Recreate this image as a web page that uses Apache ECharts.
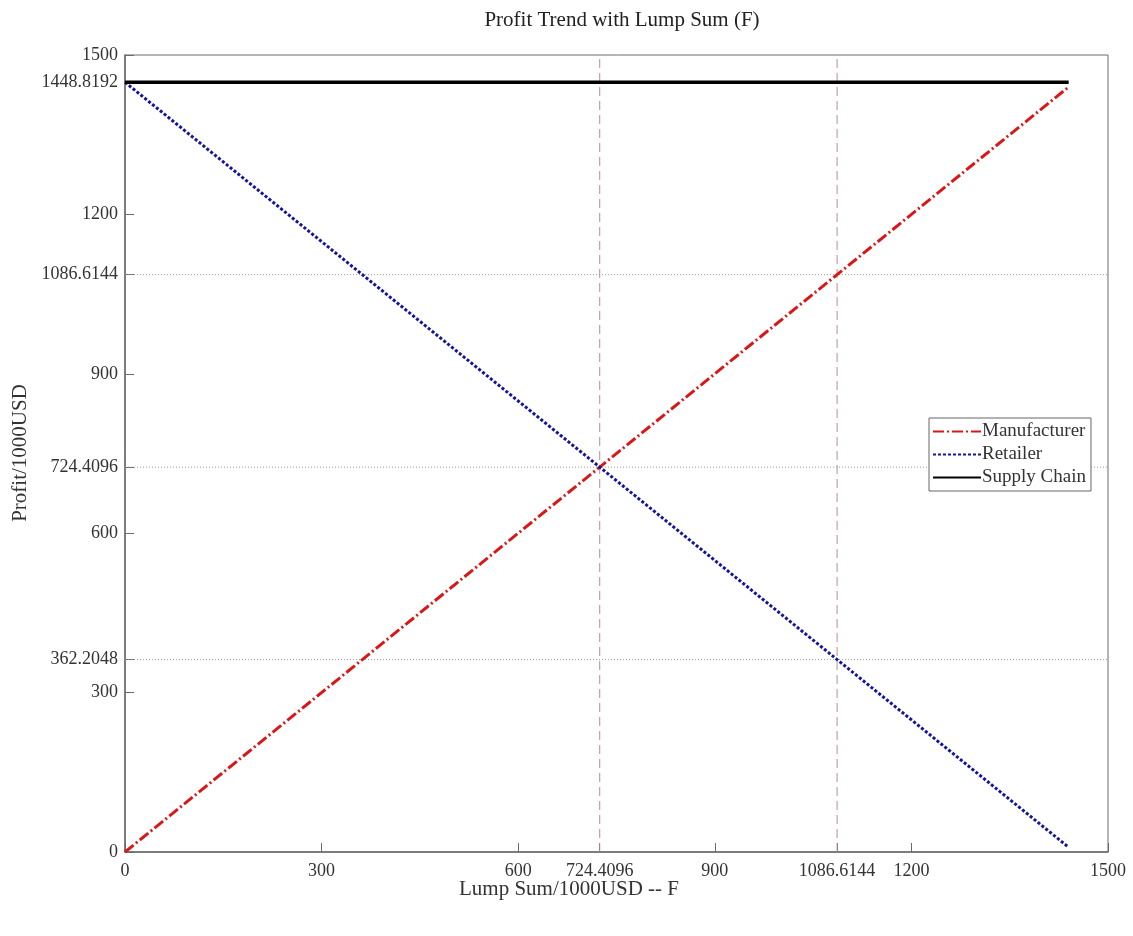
<!DOCTYPE html>
<html>
<head>
<meta charset="utf-8">
<script src="https://cdn.jsdelivr.net/npm/echarts@6/dist/echarts.min.js"></script>
<style>
  html, body { margin: 0; padding: 0; background: #fff; }
  #chart { width: 1133px; height: 936px; }
</style>
</head>
<body>
<div id="chart"></div>
<script>
// Lump sum F (x) and resulting profits, in 1000 USD
const lumpSum      = [0, 724.4096, 1086.6144, 1440];
const manufacturer = [0, 724.4096, 1086.6144, 1440];
const retailer     = [1448.8192, 724.4096, 362.2048, 8.8192];
const supplyChain  = [1448.8192, 1448.8192, 1448.8192, 1448.8192];

// Tick labels on each axis
const xTicks = [0, 300, 600, 724.4096, 900, 1086.6144, 1200, 1500];
const yTicks = [0, 300, 362.2048, 600, 724.4096, 900, 1086.6144, 1200, 1448.8192, 1500];

// Reference lines
const vRefX = [724.4096, 1086.6144];
const hRefY = [362.2048, 724.4096, 1086.6144];

const FONT = '"Liberation Serif", "Times New Roman", serif';
const TXT = '#333';
const AX = '#6a6a6a';

const pairs = (xs, ys) => xs.map((x, i) => [x, ys[i]]);

const series = [];

vRefX.forEach(x => series.push({
  type: 'line', silent: true, symbol: 'none', z: 1,
  data: [[x, 0], [x, 1500]],
  lineStyle: { color: '#b58d95', width: 1, type: [9, 5] }
}));
hRefY.forEach(y => series.push({
  type: 'line', silent: true, symbol: 'none', z: 1,
  data: [[0, y], [1500, y]],
  lineStyle: { color: '#9a9a9a', width: 1, type: [1, 2] }
}));

series.push(
  {
    name: 'Manufacturer', type: 'line', symbol: 'none', z: 3,
    data: pairs(lumpSum, manufacturer),
    itemStyle: { color: '#d81818' },
    lineStyle: { color: '#d81818', width: 3, type: [11, 3, 2, 3] }
  },
  {
    name: 'Retailer', type: 'line', symbol: 'none', z: 4,
    data: pairs(lumpSum, retailer),
    itemStyle: { color: '#15159a' },
    lineStyle: { color: '#15159a', width: 3, type: [3, 2] }
  },
  {
    name: 'Supply Chain', type: 'line', symbol: 'none', z: 5,
    data: pairs(lumpSum, supplyChain),
    itemStyle: { color: '#000' },
    lineStyle: { color: '#000', width: 3.5, type: 'solid' }
  }
);

const chart = echarts.init(document.getElementById('chart'), null, { renderer: 'canvas' });

chart.setOption({
  backgroundColor: '#fff',
  animation: false,
  title: {
    text: 'Profit Trend with Lump Sum (F)',
    left: 617, top: 5, textAlign: 'center',
    textStyle: { fontFamily: FONT, fontSize: 21, fontWeight: 'normal', color: '#222' }
  },
  legend: {
    data: ['Manufacturer', 'Retailer', 'Supply Chain'],
    orient: 'vertical',
    left: 929, top: 418,
    padding: [4, 5, 4, 3],
    itemWidth: 48, itemHeight: 12, itemGap: 4,
    borderColor: '#666', borderWidth: 1,
    backgroundColor: '#fff',
    itemStyle: { opacity: 0 },
    textStyle: { fontFamily: FONT, fontSize: 19, color: TXT, padding: [0, 0, 0, -4] }
  },
  grid: { left: 125, right: 25, top: 55, bottom: 84, show: true, borderColor: AX, borderWidth: 1 },
  xAxis: {
    type: 'value', min: 0, max: 1500,
    axisLine: { show: true, onZero: false, lineStyle: { color: AX, width: 1.5 } },
    splitLine: { show: false },
    axisTick: { show: true, inside: true, length: 9, customValues: xTicks, lineStyle: { color: AX } },
    axisLabel: {
      customValues: xTicks, margin: 10, showMinLabel: true, showMaxLabel: true,
      fontFamily: FONT, fontSize: 18, color: TXT,
      formatter: v => String(v)
    }
  },
  yAxis: {
    type: 'value', min: 0, max: 1500,
    axisLine: { show: true, onZero: false, lineStyle: { color: AX, width: 1.5 } },
    splitLine: { show: false },
    axisTick: { show: true, inside: true, length: 9, customValues: yTicks, lineStyle: { color: AX } },
    axisLabel: {
      customValues: yTicks, margin: 7, showMinLabel: true, showMaxLabel: true,
      fontFamily: FONT, fontSize: 18, color: TXT,
      formatter: v => String(v)
    }
  },
  graphic: [
    {
      type: 'text', x: 569, y: 889,
      style: { text: 'Lump Sum/1000USD -- F', font: '21px ' + FONT, fill: TXT, align: 'center', verticalAlign: 'middle' }
    },
    {
      type: 'text', x: 20, y: 453, rotation: Math.PI / 2,
      style: { text: 'Profit/1000USD', font: '21px ' + FONT, fill: TXT, align: 'center', verticalAlign: 'middle' }
    }
  ],
  series: series
});
</script>
</body>
</html>
